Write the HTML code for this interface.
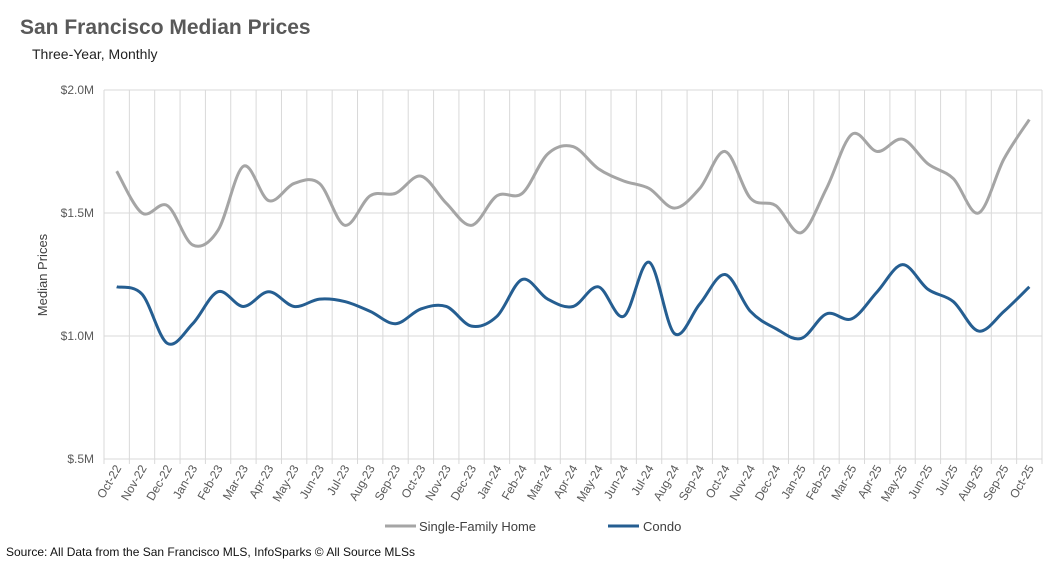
<!DOCTYPE html>
<html><head><meta charset="utf-8"><style>
body{margin:0;background:#fff;font-family:"Liberation Sans",sans-serif}
</style></head><body>
<svg id="c" width="1060" height="564" viewBox="0 0 1060 564" xmlns="http://www.w3.org/2000/svg">
<text x="20" y="34" font-size="21" font-weight="bold" fill="#595959">San Francisco Median Prices</text>
<text x="32" y="59" font-size="14" fill="#222">Three-Year, Monthly</text>
<text transform="translate(47,275) rotate(-90)" text-anchor="middle" font-size="13" fill="#404040">Median Prices</text>
<g id="grid"></g><g id="series"></g><g id="xl"></g>
<g>
<line x1="385" y1="526" x2="416" y2="526" stroke="#A5A5A5" stroke-width="3"/>
<text x="419" y="531" font-size="13" fill="#404040">Single-Family Home</text>
<line x1="608" y1="526" x2="639" y2="526" stroke="#255E91" stroke-width="3"/>
<text x="643" y="531" font-size="13" fill="#404040">Condo</text>
</g>
<text x="6" y="556" font-size="12" fill="#111">Source: All Data from the San Francisco MLS, InfoSparks © All Source MLSs</text>
</svg>
<script>
const months=["Oct-22","Nov-22","Dec-22","Jan-23","Feb-23","Mar-23","Apr-23","May-23","Jun-23","Jul-23","Aug-23","Sep-23","Oct-23","Nov-23","Dec-23","Jan-24","Feb-24","Mar-24","Apr-24","May-24","Jun-24","Jul-24","Aug-24","Sep-24","Oct-24","Nov-24","Dec-24","Jan-25","Feb-25","Mar-25","Apr-25","May-25","Jun-25","Jul-25","Aug-25","Sep-25","Oct-25"];
const sfh=[1.67,1.50,1.53,1.37,1.43,1.69,1.55,1.62,1.62,1.45,1.57,1.58,1.65,1.54,1.45,1.57,1.58,1.74,1.77,1.68,1.63,1.60,1.52,1.60,1.75,1.56,1.53,1.42,1.60,1.82,1.75,1.80,1.70,1.64,1.50,1.72,1.88];
const condo=[1.20,1.17,0.97,1.05,1.18,1.12,1.18,1.12,1.15,1.14,1.10,1.05,1.11,1.12,1.04,1.08,1.23,1.15,1.12,1.20,1.08,1.30,1.01,1.13,1.25,1.10,1.03,0.99,1.09,1.07,1.18,1.29,1.19,1.14,1.02,1.10,1.20];
const yTicks=[0.5,1.0,1.5,2.0];
const yTickLabels=["$.5M","$1.0M","$1.5M","$2.0M"];
const NS="http://www.w3.org/2000/svg";
const L=104,R=1042,T=90,B=459;
const step=(R-L)/months.length;
const xs=i=>L+step*(i+0.5);
const ys=v=>B-(v-0.5)/1.5*(B-T);
function mk(t,a,p){const e=document.createElementNS(NS,t);for(const k in a)e.setAttribute(k,a[k]);p.appendChild(e);return e;}
const g=document.getElementById('grid');
yTicks.forEach((v,i)=>{
const l=mk('line',{x1:L,x2:R,y1:ys(v),y2:ys(v),stroke:'#d9d9d9','stroke-width':1},g);


const t=mk('text',{x:L-10,y:ys(v)+4,'text-anchor':'end','font-size':12,fill:'#595959'},g);
t.textContent=yTickLabels[i];


});
for(let i=0;i<=months.length;i++){
const l=mk('line',{x1:L+step*i,x2:L+step*i,y1:T,y2:B+5,stroke:'#d9d9d9','stroke-width':1},g);


}
const xl=document.getElementById('xl');
months.forEach((m,i)=>{
const t=mk('text',{transform:`translate(${xs(i)+5},${B+9}) rotate(-60)`,'text-anchor':'end','font-size':12,fill:'#595959'},xl);
t.textContent=m;


});
function path(vals){
const p=vals.map((v,i)=>[xs(i),ys(v)]);
let d=`M${p[0][0]},${p[0][1]}`;
for(let i=0;i<p.length-1;i++){
const p0=p[i-1]||p[i],p1=p[i],p2=p[i+1],p3=p[i+2]||p2;
const c1=[p1[0]+(p2[0]-p0[0])/6,p1[1]+(p2[1]-p0[1])/6];
const c2=[p2[0]-(p3[0]-p1[0])/6,p2[1]-(p3[1]-p1[1])/6];
d+=` C${c1[0]},${c1[1]} ${c2[0]},${c2[1]} ${p2[0]},${p2[1]}`;
}
return d;
}
const s=document.getElementById('series');
const a=mk('path',{d:path(sfh),fill:'none',stroke:'#A5A5A5','stroke-width':3},s);


const b=mk('path',{d:path(condo),fill:'none',stroke:'#255E91','stroke-width':3},s);


</script>
</body></html>
